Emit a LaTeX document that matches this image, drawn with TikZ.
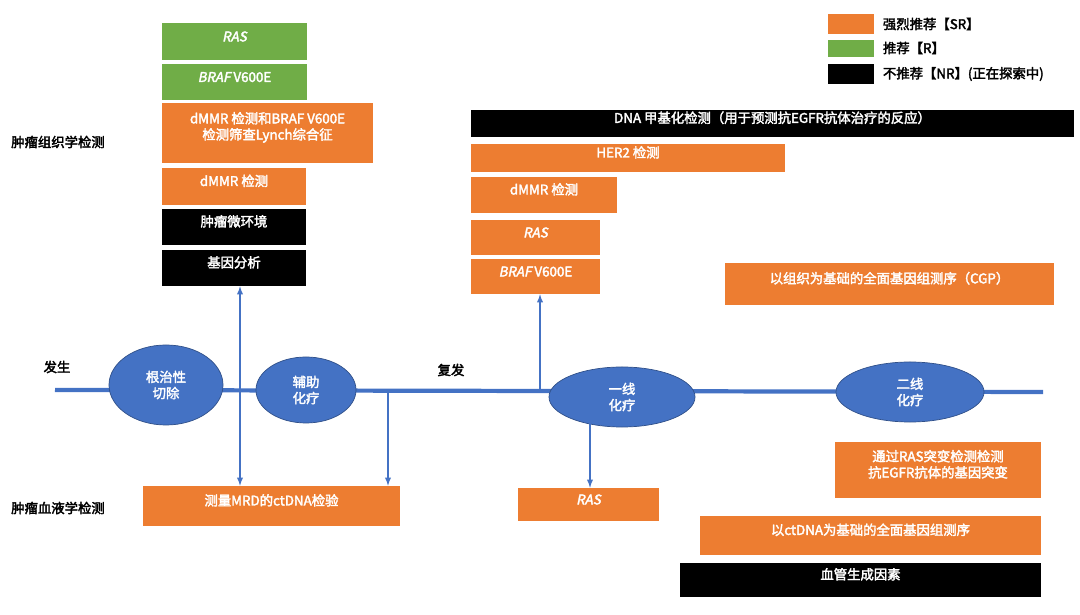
\documentclass[tikz,border=0pt]{standalone}
\usepackage{fontspec}
\setmainfont{Noto Sans CJK SC}[AutoFakeBold=2.5,AutoFakeSlant=0.2]
\usetikzlibrary{fit,shapes.geometric}
\definecolor{srorange}{RGB}{237,125,49}
\definecolor{rgreen}{RGB}{112,173,71}
\definecolor{tlblue}{RGB}{68,114,196}
\begin{document}
\begin{tikzpicture}[x=0.025cm,y=-0.025cm,
  box/.style={inner sep=0pt,text=white,font=\bfseries\fontsize{9.5}{11.5}\selectfont,align=center},
  sr/.style={box,fill=srorange},
  rr/.style={box,fill=rgreen},
  nr/.style={box,fill=black},
  phase/.style={ellipse,fill=tlblue,draw=tlblue!70!black,line width=0.5pt,text=white,font=\bfseries\fontsize{9.5}{11.5}\selectfont,align=center,inner sep=0pt},
  lbl/.style={font=\bfseries\fontsize{9.5}{11.5}\selectfont},
  arr/.style={tlblue,line width=1pt,-latex}]
\useasboundingbox (0,0) rectangle (1080,615);

% Legend
\node[sr,fit={(828,14) (874,34)}] (legsr) {};
\node[rr,fit={(828,40) (874,57)}] (legr) {};
\node[nr,fit={(828,64) (874,84)}] (legnr) {};
\node[lbl,anchor=west] at (878,24) {强烈推荐【SR】};
\node[lbl,anchor=west] at (878,48) {推荐【R】};
\node[lbl,anchor=west] at (878,74) {不推荐【NR】(正在探索中)};

% Tissue tests before resection
\node[rr,fit={(162,23) (307,60)}] (ras1) {\textit{RAS}};
\node[rr,fit={(162,64) (307,100)}] (braf1) {\textit{BRAF} V600E};
\node[sr,fit={(162,103) (373,163)}] (lynch) {dMMR 检测和BRAF V600E\\检测筛查Lynch综合征};
\node[sr,fit={(162,168) (306,205)}] (dmmr1) {dMMR 检测};
\node[nr,fit={(162,209) (306,245)}] (micro) {肿瘤微环境};
\node[nr,fit={(162,250) (306,286)}] (gene) {基因分析};

% Tissue tests at recurrence
\node[nr,fit={(471,110) (1074,137)}] (dna) {DNA 甲基化检测（用于预测抗EGFR抗体治疗的反应）};
\node[sr,fit={(471,144) (785,172)}] (her2) {HER2 检测};
\node[sr,fit={(471,177) (617,213)}] (dmmr2) {dMMR 检测};
\node[sr,fit={(471,220) (600,255)}] (ras2) {\textit{RAS}};
\node[sr,fit={(471,259) (600,294)}] (braf2) {\textit{BRAF} V600E};
\node[sr,fit={(725,263) (1054,305)}] (cgp) {以组织为基础的全面基因组测序（CGP）};

% Row labels
\node[lbl] at (58,142) {肿瘤组织学检测};
\node[lbl] at (58,508) {肿瘤血液学检测};

% Timeline
\coordinate (start) at (55,390);
\coordinate (end) at (1043,392);
\draw[tlblue,line width=3pt] (start) -- (end);
\node[lbl] at (57,367) {发生};
\node[lbl] at (451,370) {复发};
\node[phase,minimum width=2.85cm,minimum height=2cm] (resect) at (166,385) {根治性\\切除};
\node[phase,minimum width=2.5cm,minimum height=1.65cm] (adj) at (306,390) {辅助\\化疗};
\node[phase,minimum width=3.65cm,minimum height=1.5cm] (first) at (622,397) {一线\\化疗};
\node[phase,minimum width=3.7cm,minimum height=1.5cm] (second) at (910,392) {二线\\化疗};

% Blood tests
\node[sr,fit={(143,486) (400,526)}] (mrd) {测量MRD的ctDNA检验};
\node[sr,fit={(518,488) (659,521)}] (ras3) {\textit{RAS}};
\node[sr,fit={(835,442) (1041,498)}] (egfr) {通过RAS突变检测检测\\抗EGFR抗体的基因突变};
\node[sr,fit={(700,516) (1041,555)}] (ctcgp) {以ctDNA为基础的全面基因组测序};
\node[nr,fit={(680,563) (1041,597)}] (angio) {血管生成因素};

% Connectors
\coordinate (a1) at (240,390);
\coordinate (a2) at (388,390);
\coordinate (a3) at (540,390);
\coordinate (a4) at (590,420);
\draw[arr] (a1) -- (a1 |- gene.south);
\draw[arr] (a1) -- (a1 |- mrd.north);
\draw[arr] (a2) -- (a2 |- mrd.north);
\draw[arr] (a3) -- (a3 |- braf2.south);
\draw[arr] (a4) -- (a4 |- ras3.north);
\end{tikzpicture}
\end{document}
